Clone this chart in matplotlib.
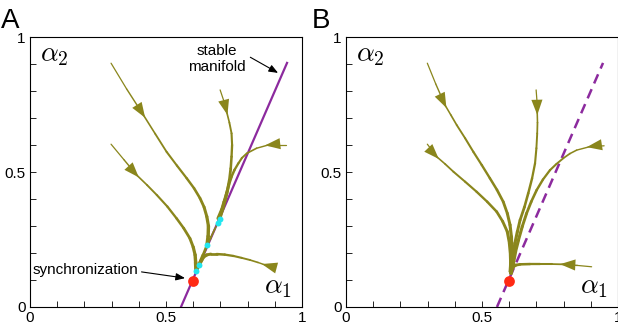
import numpy as np
import matplotlib
matplotlib.use("Agg")
import matplotlib.pyplot as plt
from matplotlib.collections import LineCollection

plt.rcParams['font.family'] = ['Liberation Sans', 'DejaVu Sans']
plt.rcParams['mathtext.fontset'] = 'cm'

OLIVE = '#8a861c'
PURPLE = '#8c2a9e'
RED = '#ff2a14'
CYAN = '#22e6f0'

# stable manifold (same in both panels)
manifold_x = [0.555, 0.945]
manifold_y = [0.0, 0.904]

sync_point = (0.598, 0.098)

# panel A trajectories
a_traj = [
    ([0.298, 0.355, 0.417, 0.460, 0.502, 0.540, 0.576, 0.603, 0.625, 0.640, 0.650, 0.656, 0.655, 0.651],
     [0.903, 0.808, 0.711, 0.642, 0.575, 0.524, 0.477, 0.440, 0.403, 0.370, 0.335, 0.300, 0.262, 0.230]),
    ([0.298, 0.345, 0.392, 0.430, 0.466, 0.505, 0.539, 0.565, 0.588, 0.600, 0.607, 0.609, 0.610],
     [0.603, 0.546, 0.489, 0.452, 0.415, 0.372, 0.328, 0.292, 0.254, 0.222, 0.193, 0.165, 0.140]),
    ([0.699, 0.712, 0.723, 0.733, 0.741, 0.743, 0.741, 0.738, 0.733, 0.726, 0.717, 0.708, 0.699],
     [0.804, 0.765, 0.723, 0.683, 0.643, 0.600, 0.557, 0.513, 0.470, 0.432, 0.396, 0.364, 0.334]),
    ([0.941, 0.876, 0.833, 0.797, 0.779, 0.766, 0.752, 0.741, 0.731, 0.723, 0.714, 0.705, 0.692],
     [0.600, 0.600, 0.588, 0.569, 0.552, 0.532, 0.508, 0.483, 0.453, 0.421, 0.390, 0.359, 0.328]),
    ([0.897, 0.864, 0.838, 0.809, 0.778, 0.748, 0.716, 0.686, 0.665, 0.650, 0.638, 0.631, 0.625],
     [0.149, 0.156, 0.165, 0.174, 0.182, 0.189, 0.194, 0.196, 0.196, 0.193, 0.185, 0.174, 0.162]),
    ([0.698, 0.680, 0.665, 0.651, 0.636, 0.621, 0.610],
     [0.326, 0.290, 0.258, 0.230, 0.192, 0.156, 0.133]),
]
a_arrows = [(0.417, 0.711), (0.392, 0.489), (0.723, 0.723), (0.876, 0.600), (0.864, 0.156)]
a_cyan_x = [0.61, 0.621, 0.651, 0.691, 0.698]
a_cyan_y = [0.133, 0.156, 0.23, 0.311, 0.326]

# panel B trajectories
b_traj = [
    ([0.299, 0.330, 0.364, 0.385, 0.407, 0.438, 0.468, 0.499, 0.529, 0.555, 0.578, 0.593, 0.603, 0.608, 0.609, 0.607, 0.605],
     [0.903, 0.826, 0.748, 0.712, 0.674, 0.625, 0.575, 0.526, 0.477, 0.434, 0.390, 0.347, 0.304, 0.260, 0.217, 0.174, 0.131]),
    ([0.299, 0.315, 0.333, 0.364, 0.395, 0.438, 0.480, 0.519, 0.554, 0.576, 0.593, 0.601, 0.605, 0.606, 0.605],
     [0.603, 0.582, 0.557, 0.530, 0.501, 0.464, 0.427, 0.390, 0.353, 0.317, 0.279, 0.236, 0.193, 0.160, 0.131]),
    ([0.699, 0.702, 0.703, 0.704, 0.703, 0.700, 0.695, 0.684, 0.670, 0.656, 0.640, 0.630, 0.621, 0.615, 0.609, 0.606],
     [0.804, 0.764, 0.723, 0.683, 0.643, 0.588, 0.532, 0.476, 0.421, 0.370, 0.322, 0.279, 0.236, 0.192, 0.149, 0.125]),
    ([0.949, 0.897, 0.848, 0.823, 0.799, 0.774, 0.750, 0.724, 0.701, 0.681, 0.664, 0.648, 0.634, 0.623, 0.615, 0.607],
     [0.597, 0.594, 0.581, 0.568, 0.551, 0.530, 0.507, 0.472, 0.433, 0.390, 0.347, 0.298, 0.248, 0.205, 0.162, 0.125]),
    ([0.903, 0.850, 0.799, 0.756, 0.713, 0.676, 0.640, 0.624, 0.615, 0.609, 0.605],
     [0.149, 0.154, 0.158, 0.159, 0.159, 0.159, 0.158, 0.155, 0.149, 0.140, 0.131]),
]
b_arrows = [(0.364, 0.748), (0.333, 0.557), (0.703, 0.723), (0.897, 0.594), (0.799, 0.158)]


def draw_traj(ax, xs, ys, w0=0.9, w1=2.6):
    # trajectories get thicker as they approach the attractor
    pts = np.column_stack([xs, ys])
    segs = np.stack([pts[:-1], pts[1:]], axis=1)
    widths = np.linspace(w0, w1, len(segs))
    lc = LineCollection(segs, linewidths=widths, colors=OLIVE, capstyle='round', zorder=3)
    ax.add_collection(lc)


def draw_arrow(ax, xs, ys, p):
    # arrow at p pointing along the local direction of the curve
    xs = np.array(xs)
    ys = np.array(ys)
    i = int(np.argmin((xs - p[0]) ** 2 + (ys - p[1]) ** 2))
    j = min(i + 1, len(xs) - 1)
    k = max(i - 1, 0)
    d = np.array([xs[j] - xs[k], ys[j] - ys[k]])
    d = d / np.hypot(*d) * 0.012
    ax.annotate('', xy=(p[0] + d[0], p[1] + d[1]), xytext=(p[0] - d[0], p[1] - d[1]),
                arrowprops=dict(arrowstyle='-|>,head_length=1.1,head_width=0.4',
                                color=OLIVE, lw=0, shrinkA=0, shrinkB=0),
                zorder=5)


def setup(ax):
    ax.set_xlim(0, 1)
    ax.set_ylim(0, 1)
    ax.set_xticks([0, 0.5, 1])
    ax.set_xticklabels(['0', '0.5', '1'])
    ax.set_yticks([0, 0.5, 1])
    ax.set_yticklabels(['0', '0.5', '1'])
    ax.set_xticks(np.arange(0, 1.01, 0.1), minor=True)
    ax.set_yticks(np.arange(0, 1.01, 0.1), minor=True)
    ax.tick_params(which='both', direction='in', length=4, width=0.6,
                   top=False, right=False, labelsize=11, pad=3)
    for s in ax.spines.values():
        s.set_linewidth(0.8)
    ax.text(0.035, 0.935, r'$\alpha_2$', fontsize=20, transform=ax.transAxes, va='center')
    ax.text(0.86, 0.075, r'$\alpha_1$', fontsize=20, transform=ax.transAxes, va='center')


fig = plt.figure(figsize=(6.18, 3.29), dpi=100)
axA = fig.add_axes([30 / 618, 22 / 329, 272 / 618, 270 / 329])
axB = fig.add_axes([346 / 618, 22 / 329, 272 / 618, 270 / 329])
for ax in (axA, axB):
    setup(ax)

# panel A
for xs, ys in a_traj:
    draw_traj(axA, xs, ys)
axA.plot(manifold_x, manifold_y, color=PURPLE, lw=1.6, zorder=2)
for (xs, ys), p in zip(a_traj, a_arrows):
    draw_arrow(axA, xs, ys, p)
axA.scatter(a_cyan_x, a_cyan_y, s=18, color=CYAN, zorder=6, linewidths=0)
axA.scatter([sync_point[0]], [sync_point[1]], s=60, color=RED, zorder=7, linewidths=0)

arrow_kw = dict(arrowstyle='-|>,head_length=0.55,head_width=0.22',
                color='black', lw=0.8, shrinkA=0, shrinkB=0)
axA.text(0.687, 0.918, 'stable\nmanifold', ha='center', va='center',
         fontsize=11, linespacing=1.2)
axA.annotate('', xy=(0.912, 0.867), xytext=(0.81, 0.925), arrowprops=arrow_kw)
axA.text(0.205, 0.137, 'synchronization', ha='center', va='center', fontsize=11)
axA.annotate('', xy=(0.57, 0.107), xytext=(0.41, 0.13), arrowprops=arrow_kw)

# panel B
for xs, ys in b_traj:
    draw_traj(axB, xs, ys)
axB.plot(manifold_x, manifold_y, color=PURPLE, lw=1.8, ls=(0, (4, 2.5)), zorder=2)
for (xs, ys), p in zip(b_traj, b_arrows):
    draw_arrow(axB, xs, ys, p)
axB.scatter([sync_point[0]], [sync_point[1]], s=60, color=RED, zorder=7, linewidths=0)

fig.text(1 / 618, 321 / 329, 'A', fontsize=20, va='top')
fig.text(312 / 618, 321 / 329, 'B', fontsize=20, va='top')

fig.savefig('out.png', dpi=100)
